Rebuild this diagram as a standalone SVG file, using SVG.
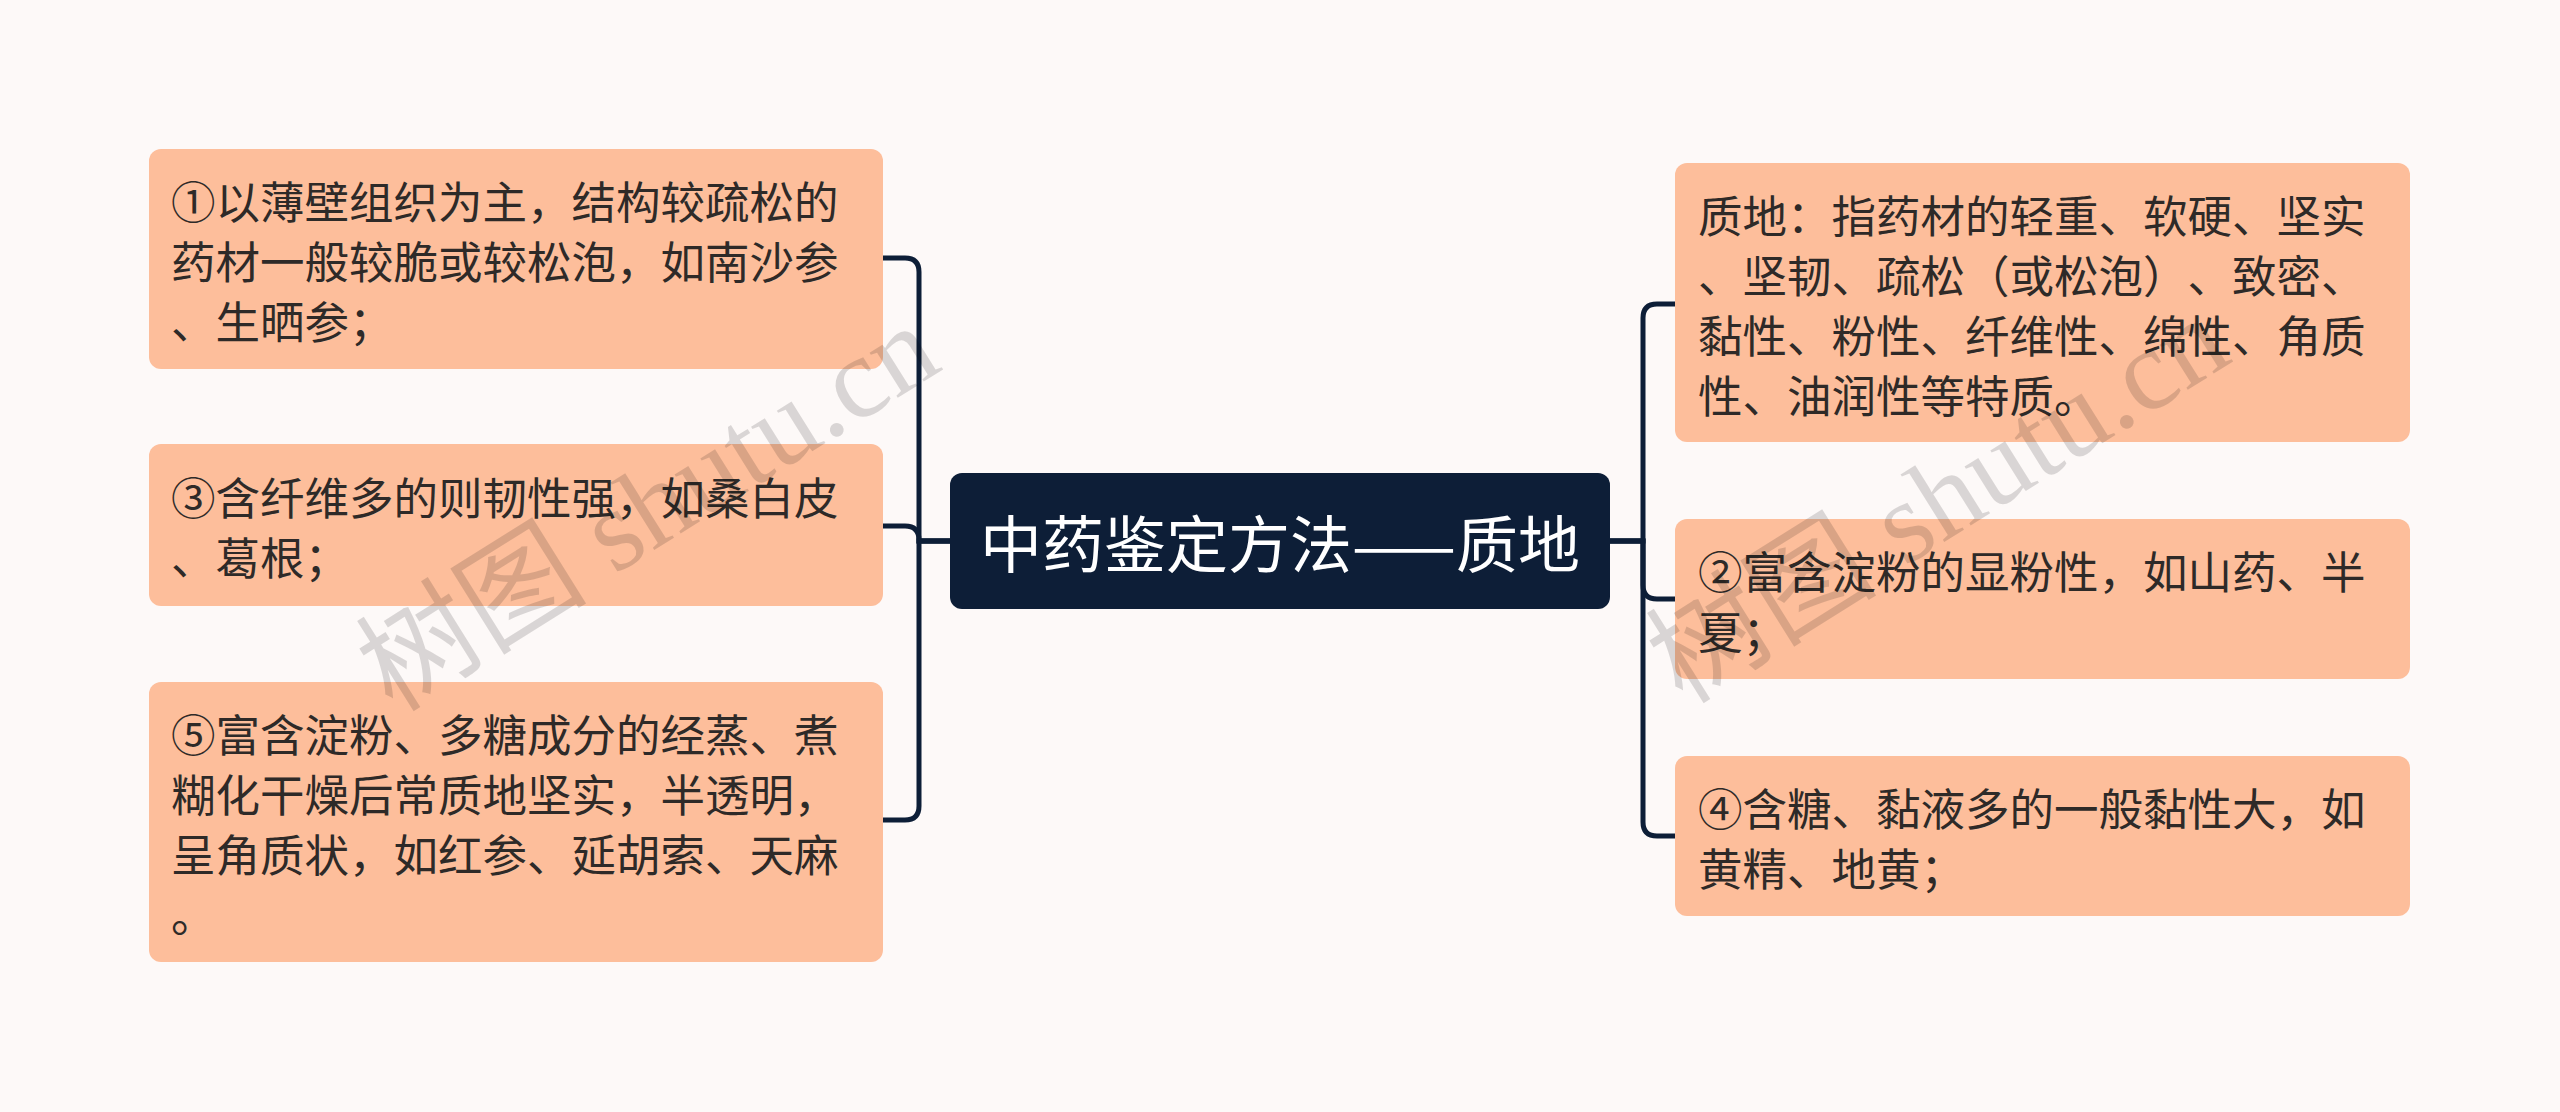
<svg xmlns="http://www.w3.org/2000/svg" width="2560" height="1112" viewBox="0 0 2560 1112">
<style>
.bg{fill:#FDF9F8}
.leaf{fill:#FDBE9B}
.root{fill:#0D1E37}
.t{font-family:"Noto Sans CJK SC","Noto Sans",sans-serif;font-size:44.5px;fill:#2E2A28;dominant-baseline:central;text-spacing-trim:space-all}
.rt{font-family:"Noto Sans CJK SC","Noto Sans",sans-serif;font-size:62px;fill:#FFFFFF;dominant-baseline:central;text-anchor:middle;text-spacing-trim:space-all}
.c{fill:none;stroke:#0D1E37;stroke-width:5}
.wm{font-family:"Liberation Serif","Noto Sans CJK SC",serif;font-size:116px;fill:#000000;fill-opacity:0.14;text-anchor:middle;dominant-baseline:central}
</style>
<rect class="bg" x="0" y="0" width="2560" height="1112"/>
<g id="connectors">
<path class="c" d="M950,541 H919 V272 Q919,258 905,258 H883"/>
<path class="c" d="M950,541 H919 V540 Q919,526 905,526 H883"/>
<path class="c" d="M950,541 H919 V806 Q919,820 905,820 H883"/>
<path class="c" d="M1610,541 H1643 V318 Q1643,304 1657,304 H1675"/>
<path class="c" d="M1610,541 H1643 V585 Q1643,599 1657,599 H1675"/>
<path class="c" d="M1610,541 H1643 V822 Q1643,836 1657,836 H1675"/>
</g>
<g id="root">
<rect class="root" x="950" y="473" width="660" height="136" rx="12"/>
<text class="rt" x="1280" y="541">中药鉴定方法——质地</text>
</g>
<g id="n1">
<rect class="leaf" x="149" y="149" width="734" height="220" rx="12"/>
<text class="t" x="171" y="199">①以薄壁组织为主，结构较疏松的</text>
<text class="t" x="171" y="259">药材一般较脆或较松泡，如南沙参</text>
<text class="t" x="171" y="319">、生晒参；</text>
</g>
<g id="n3">
<rect class="leaf" x="149" y="444" width="734" height="162" rx="12"/>
<text class="t" x="171" y="495">③含纤维多的则韧性强，如桑白皮</text>
<text class="t" x="171" y="555">、葛根；</text>
</g>
<g id="n5">
<rect class="leaf" x="149" y="682" width="734" height="280" rx="12"/>
<text class="t" x="171" y="732">⑤富含淀粉、多糖成分的经蒸、煮</text>
<text class="t" x="171" y="792">糊化干燥后常质地坚实，半透明，</text>
<text class="t" x="171" y="852">呈角质状，如红参、延胡索、天麻</text>
<text class="t" x="171" y="912">。</text>
</g>
<g id="n0">
<rect class="leaf" x="1675" y="163" width="735" height="279" rx="12"/>
<text class="t" x="1698" y="213">质地：指药材的轻重、软硬、坚实</text>
<text class="t" x="1698" y="273">、坚韧、疏松（或松泡）、致密、</text>
<text class="t" x="1698" y="333">黏性、粉性、纤维性、绵性、角质</text>
<text class="t" x="1698" y="393">性、油润性等特质。</text>
</g>
<g id="n2">
<rect class="leaf" x="1675" y="519" width="735" height="160" rx="12"/>
<text class="t" x="1698" y="569">②富含淀粉的显粉性，如山药、半</text>
<text class="t" x="1698" y="629">夏；</text>
</g>
<g id="n4">
<rect class="leaf" x="1675" y="756" width="735" height="160" rx="12"/>
<text class="t" x="1698" y="806">④含糖、黏液多的一般黏性大，如</text>
<text class="t" x="1698" y="866">黄精、地黄；</text>
</g>
<g id="watermark">
<text class="wm" transform="translate(648,508) rotate(-32)">树图 shutu.cn</text>
<text class="wm" transform="translate(1938,500) rotate(-32)">树图 shutu.cn</text>
</g>
</svg>
